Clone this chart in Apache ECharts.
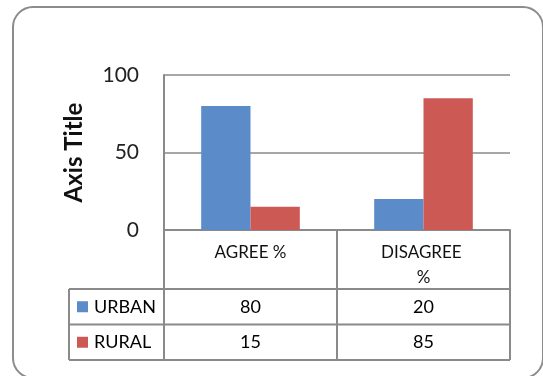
<!DOCTYPE html>
<html>
<head>
<meta charset="utf-8">
<title>Agree / Disagree</title>
<script src="https://cdn.jsdelivr.net/npm/echarts@6/dist/echarts.min.js"></script>
<style>
    html, body { margin: 0; padding: 0; background: #fff; }
    #chart { width: 543px; height: 376px; }
</style>
</head>
<body>
<div id="chart"></div>
<script>
    // data
    var categories = ['AGREE %', 'DISAGREE %'];
    var seriesNames = ['URBAN', 'RURAL'];
    var urbanValues = [80, 20];
    var ruralValues = [15, 85];
    var yTicks = [0, 50, 100];

    var colors = ['#5b8bc9', '#cd5955'];
    var lineColor = '#8a8a8a';
    var font = 'Lato, "Open Sans", sans-serif';

    var myChart = echarts.init(document.getElementById('chart'));

    var option = {
        animation: false,
        textStyle: {fontFamily: font},
        grid: {left: 164, right: 33, top: 75, bottom: 146},
        xAxis: {
            type: 'category',
            data: categories,
            axisLine: {show: true, lineStyle: {color: lineColor, width: 2}},
            axisTick: {show: false},
            axisLabel: {
                fontSize: 17, color: '#111', margin: 10, lineHeight: 25,
                width: 90, overflow: 'break', interval: 0
            }
        },
        yAxis: {
            type: 'value',
            min: yTicks[0],
            max: yTicks[yTicks.length - 1],
            interval: yTicks[1] - yTicks[0],
            name: 'Axis Title',
            nameLocation: 'middle',
            nameGap: 78,
            nameTextStyle: {fontSize: 24, fontWeight: 'bold', color: '#111'},
            axisLine: {show: true, lineStyle: {color: lineColor, width: 2}},
            axisTick: {show: false},
            splitLine: {lineStyle: {color: lineColor, width: 1.5}},
            axisLabel: {fontSize: 21, color: '#222', margin: 25}
        },
        series: [
            {name: seriesNames[0], type: 'bar', data: urbanValues, itemStyle: {color: colors[0]}, barGap: '0%', barCategoryGap: '43%'},
            {name: seriesNames[1], type: 'bar', data: ruralValues, itemStyle: {color: colors[1]}}
        ]
    };
    myChart.setOption(option);

    // data table under the plot, placed from the axes
    function buildTable() {
        var c0 = myChart.convertToPixel({xAxisIndex: 0}, categories[0]);
        var c1 = myChart.convertToPixel({xAxisIndex: 0}, categories[1]);
        var band = c1 - c0;
        var x0 = c0 - band / 2;
        var xEnd = x0 + band * categories.length;
        var yTop = myChart.convertToPixel({yAxisIndex: 0}, 0);
        var headerH = 59, rowH = 35.5, legendW = 95;
        var yHead = yTop + headerH;
        var yBottom = yHead + rowH * seriesNames.length;
        var xLeft = x0 - legendW;
        var rows = [urbanValues, ruralValues];

        var els = [];
        var ls = {stroke: lineColor, lineWidth: 2};
        for (var i = 0; i <= categories.length; i++) {
            var x = x0 + band * i;
            els.push({type: 'line', shape: {x1: x, y1: yTop, x2: x, y2: yBottom}, style: ls});
        }
        els.push({type: 'line', shape: {x1: xLeft, y1: yHead, x2: xLeft, y2: yBottom}, style: ls});
        for (var r = 0; r <= seriesNames.length; r++) {
            var y = yHead + rowH * r;
            els.push({type: 'line', shape: {x1: xLeft, y1: y, x2: xEnd, y2: y}, style: ls});
        }
        rows.forEach(function (vals, r) {
            var yMid = yHead + rowH * r + rowH / 2;
            els.push({type: 'rect', shape: {x: xLeft + 8, y: yMid - 5.5, width: 11, height: 11}, style: {fill: colors[r]}});
            els.push({type: 'text', x: xLeft + 25, y: yMid, style: {
                text: seriesNames[r], font: '18px ' + font, fill: '#000', verticalAlign: 'middle'
            }});
            vals.forEach(function (v, k) {
                els.push({type: 'text', x: x0 + band * k + band / 2, y: yMid, style: {
                    text: String(v), font: '18px ' + font, fill: '#000', align: 'center', verticalAlign: 'middle'
                }});
            });
        });
        // chart area frame, partly cut off at the right and bottom
        els.push({type: 'rect', shape: {x: 13, y: 7, width: 530, height: 371, r: 20},
            style: {fill: 'none', stroke: '#8c8c8c', lineWidth: 2}});
        myChart.setOption({graphic: {elements: els}});
    }
    buildTable();
</script>
</body>
</html>
